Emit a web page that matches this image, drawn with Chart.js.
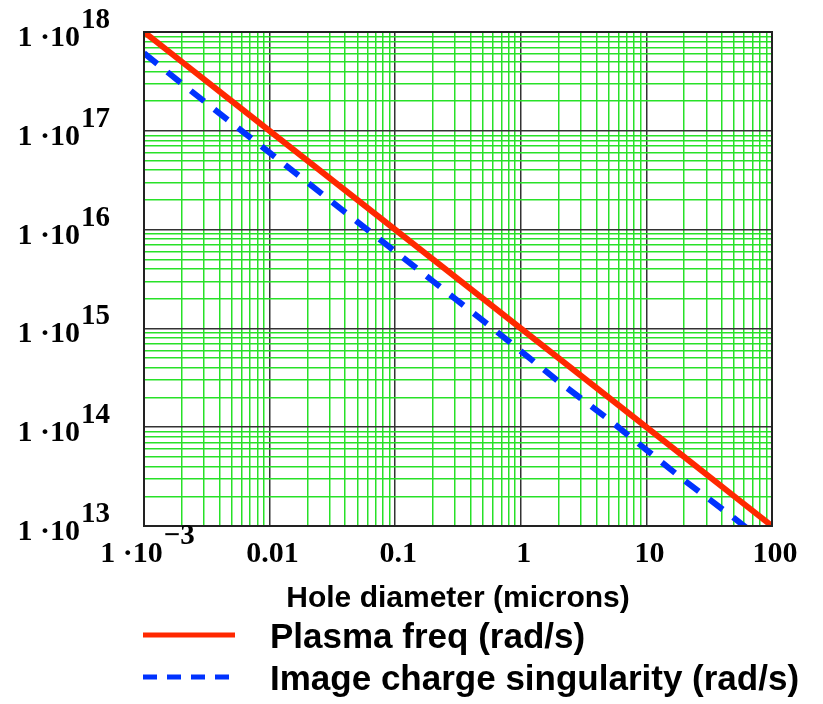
<!DOCTYPE html>
<html>
<head>
<meta charset="utf-8">
<script src="https://cdn.jsdelivr.net/npm/chart.js@4/dist/chart.umd.min.js"></script>
<style>
  html, body { margin: 0; padding: 0; background: #fff; }
  #wrap { width: 823px; height: 704px; }
</style>
</head>
<body>
<div id="wrap"><canvas id="plot" width="823" height="704"></canvas></div>
<script>
// hole diameter (microns)
const holeDiameter = [0.001, 0.002, 0.005, 0.01, 0.02, 0.05, 0.1, 0.2, 0.5, 1, 2, 5, 10, 20, 50, 100];
// plasma frequency (rad/s)
const plasmaFreq = [1e18, 5e17, 2e17, 1e17, 5e16, 2e16, 1e16, 5e15, 2e15, 1e15, 5e14, 2e14, 1e14, 5e13, 2e13, 1e13];
// image charge singularity (rad/s)
const imageCharge = [6.1e17, 3e17, 1.2e17, 6e16, 3e16, 1.2e16, 6e15, 3e15, 1.2e15, 5.9e14, 2.9e14, 1.2e14, 5.9e13, 2.9e13, 1.2e13, 6e12];

const xTickValues = [0.001, 0.01, 0.1, 1, 10, 100];
const xTickLabels = ["1 \u00b710", "0.01", "0.1", "1", "10", "100"];
const xTickSups = ["\u22123", "", "", "", "", ""];
const yTickValues = [1e13, 1e14, 1e15, 1e16, 1e17, 1e18];
const yTickLabels = ["1 \u00b710", "1 \u00b710", "1 \u00b710", "1 \u00b710", "1 \u00b710", "1 \u00b710"];
const yTickSups = ["13", "14", "15", "16", "17", "18"];

const xTitle = "Hole diameter (microns)";
const seriesNames = ["Plasma freq (rad/s)", "Image charge singularity (rad/s)"];

const RED = "rgb(255, 40, 0)";
const BLUE = "rgb(0, 50, 255)";
const GREEN = "rgb(40, 225, 40)";
const DARK = "#333";

function toPoints(ys) {
    return holeDiameter.map((x, i) => ({ x: x, y: ys[i] }));
}

// grid lines at 1..9 x each decade between the first and last labelled decade
function logGrid(decades) {
    const out = [];
    const lo = Math.round(Math.log10(decades[0]));
    const hi = Math.round(Math.log10(decades[decades.length - 1]));
    for (let e = lo; e < hi; e++) {
        for (let m = 1; m <= 9; m++) out.push({ value: parseFloat(m + "e" + e), major: m === 1 });
    }
    out.push({ value: parseFloat("1e" + hi), major: true });
    return out;
}

function gridColor(ctx) {
    if (!ctx.tick) return GREEN;
    return ctx.tick.major ? DARK : GREEN;
}

const BASE_FONT = "bold 30px 'Liberation Serif', 'Times New Roman', serif";
const SUP_FONT = "bold 29px 'Liberation Serif', 'Times New Roman', serif";

// label "1 ·10" with superscript exponent
function drawPowerLabel(ctx, base, sup, x, y, align) {
    ctx.font = BASE_FONT;
    const wb = ctx.measureText(base).width;
    ctx.font = SUP_FONT;
    const ws = sup ? ctx.measureText(sup).width : 0;
    const total = wb + ws;
    let left = x;
    if (align === "center") left = x - total / 2;
    if (align === "right") left = x - total;
    ctx.textAlign = "left";
    ctx.textBaseline = "alphabetic";
    ctx.font = BASE_FONT;
    ctx.fillText(base, left, y);
    if (sup) {
        ctx.font = SUP_FONT;
        ctx.fillText(sup, left + wb + 1, y - 18);
    }
}

const decorations = {
    id: "decorations",
    afterDraw(chart) {
        const ctx = chart.ctx;
        const area = chart.chartArea;
        const xs = chart.scales.x;
        const ys = chart.scales.y;
        ctx.save();

        // frame
        ctx.strokeStyle = "#222";
        ctx.lineWidth = 2;
        ctx.strokeRect(area.left, area.top, area.right - area.left, area.bottom - area.top);

        ctx.fillStyle = "#000";
        // y tick labels
        yTickValues.forEach((v, i) => {
            const py = ys.getPixelForValue(v);
            drawPowerLabel(ctx, yTickLabels[i], yTickSups[i], 109, py + 14, "right");
        });
        // x tick labels
        xTickValues.forEach((v, i) => {
            const px = xs.getPixelForValue(v);
            drawPowerLabel(ctx, xTickLabels[i], xTickSups[i], px + 3, 562, "center");
        });

        // axis title
        ctx.font = "bold 30px 'Liberation Sans', Arial, sans-serif";
        ctx.textAlign = "center";
        ctx.fillText(xTitle, (area.left + area.right) / 2, 607);

        // legend
        const rows = [
            { y: 635, color: RED, dash: [] },
            { y: 677, color: BLUE, dash: [14, 10] }
        ];
        rows.forEach((r, i) => {
            ctx.beginPath();
            ctx.setLineDash(r.dash);
            ctx.strokeStyle = r.color;
            ctx.lineWidth = 5;
            ctx.moveTo(143, r.y);
            ctx.lineTo(235, r.y);
            ctx.stroke();
            ctx.setLineDash([]);
            ctx.fillStyle = "#000";
            ctx.font = "bold 35px 'Liberation Sans', Arial, sans-serif";
            ctx.textAlign = "left";
            ctx.fillText(seriesNames[i], 270, r.y + 13);
        });

        ctx.restore();
    }
};

new Chart(document.getElementById("plot").getContext("2d"), {
    type: "scatter",
    data: {
        datasets: [
            {
                label: seriesNames[0],
                data: toPoints(plasmaFreq),
                showLine: true,
                borderColor: RED,
                backgroundColor: RED,
                borderWidth: 6,
                pointRadius: 0,
                tension: 0
            },
            {
                label: seriesNames[1],
                data: toPoints(imageCharge),
                showLine: true,
                borderColor: BLUE,
                backgroundColor: BLUE,
                borderWidth: 6,
                borderDash: [17, 13],
                pointRadius: 0,
                tension: 0
            }
        ]
    },
    options: {
        responsive: false,
        animation: false,
        layout: { padding: { left: 144, top: 32, right: 51, bottom: 178 } },
        plugins: {
            legend: { display: false },
            tooltip: { enabled: false }
        },
        scales: {
            x: {
                type: "logarithmic",
                min: 0.001,
                max: 100,
                afterBuildTicks: (scale) => { scale.ticks = logGrid(xTickValues); },
                border: { display: false },
                grid: { color: gridColor, lineWidth: 1.5, drawTicks: false },
                ticks: { display: false, autoSkip: false }
            },
            y: {
                type: "logarithmic",
                min: 1e13,
                max: 1e18,
                afterBuildTicks: (scale) => { scale.ticks = logGrid(yTickValues); },
                border: { display: false },
                grid: { color: gridColor, lineWidth: 1.5, drawTicks: false },
                ticks: { display: false, autoSkip: false }
            }
        }
    },
    plugins: [decorations]
});
</script>
</body>
</html>
